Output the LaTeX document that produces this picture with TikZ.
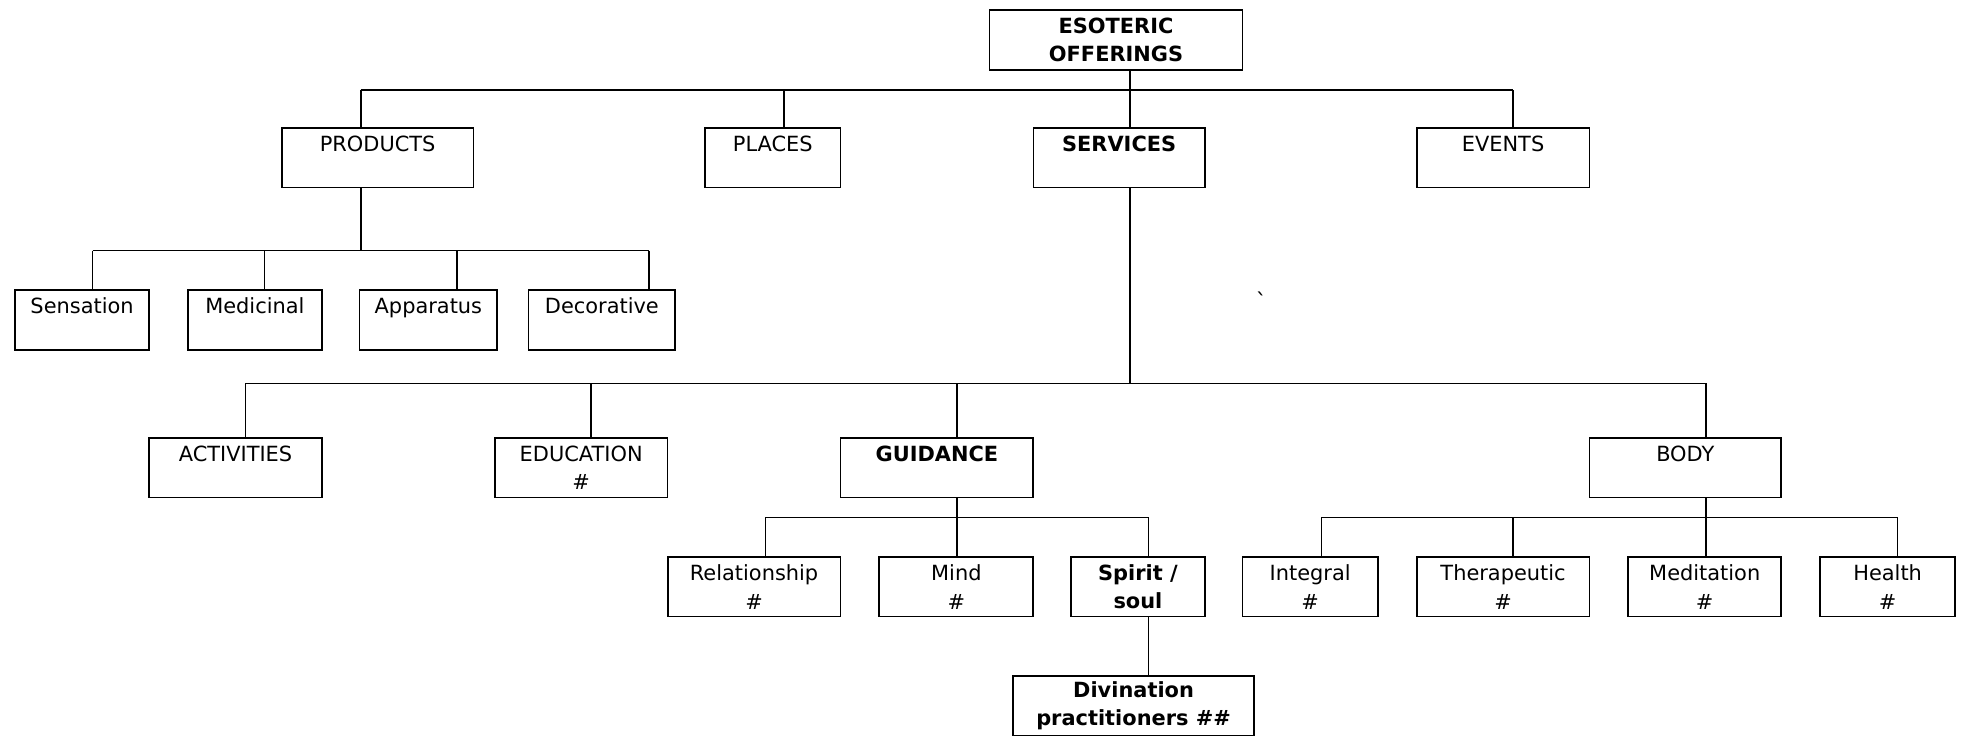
\documentclass[tikz,border=0pt]{standalone}
\usepackage{fontspec}
\setmainfont{DejaVu Sans}
\usetikzlibrary{calc}
\tikzset{
  box/.style={draw=black, line width=0.8pt, align=center, inner sep=2pt,
    minimum height=0.95cm, font=\fontsize{9.5}{13}\selectfont},
  bbox/.style={box, font=\fontsize{9.5}{13}\selectfont\bfseries},
  wire/.style={draw=black, line width=0.7pt},
}

\begin{document}
\begin{tikzpicture}[x=0.02cm, y=-0.02cm]
\useasboundingbox (0,0) rectangle (1568,588);

%% root and first level
\node[bbox, minimum width=4.04cm] (root) at (891,32) {ESOTERIC\\OFFERINGS};

\node[box, minimum width=3.06cm] (prod) at (301.5,126) {PRODUCTS\\\mbox{}};
\node[box, minimum width=2.16cm] (places) at (617,126) {PLACES\\\mbox{}};
\node[bbox, minimum width=2.74cm] (serv) at (893.5,126) {SERVICES\\\mbox{}};
\node[box, minimum width=2.76cm] (events) at (1200,126) {EVENTS\\\mbox{}};

%% products
\node[box, minimum width=2.14cm] (sens) at (65.5,255.5) {Sensation\\\mbox{}};
\node[box, minimum width=2.14cm] (medi) at (203.5,255.5) {Medicinal\\\mbox{}};
\node[box, minimum width=2.20cm] (appa) at (342,255.5) {Apparatus\\\mbox{}};
\node[box, minimum width=2.34cm] (deco) at (480.5,255.5) {Decorative\\\mbox{}};

\node (tick) at (1007,240) {\textasciigrave};

%% services
\node[box, minimum width=2.76cm] (acti) at (188,373.5) {ACTIVITIES\\\mbox{}};
\node[box, minimum width=2.76cm] (educ) at (464,373.5) {EDUCATION\\\#};
\node[bbox, minimum width=3.08cm] (guid) at (748,373.5) {GUIDANCE\\\mbox{}};
\node[box, minimum width=3.06cm] (body) at (1345.5,373.5) {BODY\\\mbox{}};

%% guidance
\node[box, minimum width=2.76cm] (rela) at (602,468.5) {Relationship\\\#};
\node[box, minimum width=2.46cm] (mind) at (763.5,468.5) {Mind\\\#};
\node[bbox, minimum width=2.14cm] (spir) at (908.5,468.5) {Spirit /\\soul};
\node[bbox, minimum width=3.84cm] (divi) at (905,563.5) {Divination\\practitioners \#\#};

%% body
\node[box, minimum width=2.16cm] (inte) at (1046,468.5) {Integral\\\#};
\node[box, minimum width=2.76cm] (ther) at (1200,468.5) {Therapeutic\\\#};
\node[box, minimum width=2.44cm] (medt) at (1361,468.5) {Meditation\\\#};
\node[box, minimum width=2.16cm] (heal) at (1507,468.5) {Health\\\#};

%% first level bus
\coordinate (t1) at (288,72);
\coordinate (t2) at (626,72);
\coordinate (t3) at (902,72);
\coordinate (t4) at (1208,72);
\draw[wire] (t1) -- (t4);
\draw[wire] (root.south -| t3) -- (serv.north -| t3);
\draw[wire] (t1) -- (prod.north -| t1);
\draw[wire] (t2) -- (places.north -| t2);
\draw[wire] (t4) -- (events.north -| t4);

%% products bus
\coordinate (p1) at (74,200);
\coordinate (p2) at (211,200);
\coordinate (p3) at (365,200);
\coordinate (p4) at (518,200);
\draw[wire] (p1) -- (p4);
\draw[wire] (prod.south -| t1) -- (p1 -| t1);
\draw[wire] (p1) -- (sens.north -| p1);
\draw[wire] (p2) -- (medi.north -| p2);
\draw[wire] (p3) -- (appa.north -| p3);
\draw[wire] (p4) -- (deco.north -| p4);

%% services bus
\coordinate (s1) at (196,306);
\coordinate (s2) at (472,306);
\coordinate (s3) at (764,306);
\coordinate (s4) at (1362,306);
\draw[wire] (s1) -- (s4);
\draw[wire] (serv.south -| t3) -- (s1 -| t3);
\draw[wire] (s1) -- (acti.north -| s1);
\draw[wire] (s2) -- (educ.north -| s2);
\draw[wire] (s3) -- (guid.north -| s3);
\draw[wire] (s4) -- (body.north -| s4);

%% guidance bus
\coordinate (g1) at (611,413);
\coordinate (g3) at (917,413);
\draw[wire] (g1) -- (g3);
\draw[wire] (guid.south -| s3) -- (g1 -| s3);
\draw[wire] (g1) -- (rela.north -| g1);
\draw[wire] (g1 -| s3) -- (mind.north -| s3);
\draw[wire] (g3) -- (spir.north -| g3);
\draw[wire] (spir.south -| g3) -- (divi.north -| g3);

%% body bus
\coordinate (b1) at (1055,413);
\coordinate (b2) at (1208,413);
\coordinate (b4) at (1515,413);
\draw[wire] (b1) -- (b4);
\draw[wire] (body.south -| s4) -- (b1 -| s4);
\draw[wire] (b1) -- (inte.north -| b1);
\draw[wire] (b2) -- (ther.north -| b2);
\draw[wire] (b1 -| s4) -- (medt.north -| s4);
\draw[wire] (b4) -- (heal.north -| b4);

\end{tikzpicture}
\end{document}
